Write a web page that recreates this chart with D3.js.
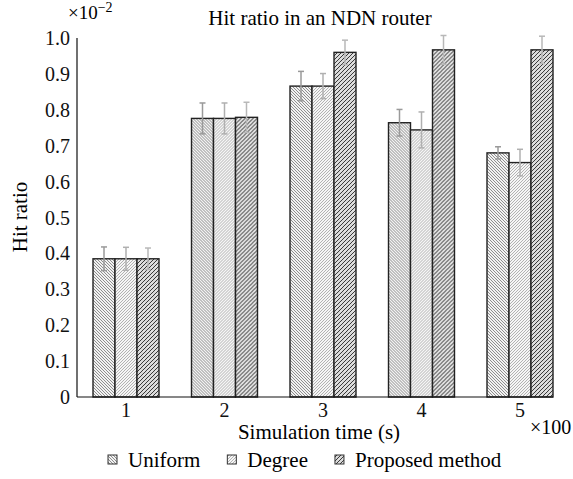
<!DOCTYPE html>
<html>
<head>
<meta charset="utf-8">
<script src="https://cdn.jsdelivr.net/npm/d3@7"></script>
<style>
  body { margin: 0; background: #fff; }
</style>
</head>
<body>
<div id="chart"></div>
<script>
// Values (hit ratio, x10^-2)
const categories = ["1", "2", "3", "4", "5"];
const seriesNames = ["Uniform", "Degree", "Proposed method"];
const uniform = [0.385, 0.776, 0.866, 0.764, 0.680];
const degree = [0.385, 0.776, 0.866, 0.744, 0.653];
const proposed = [0.385, 0.779, 0.960, 0.967, 0.967];
const uniformErr = [0.033, 0.043, 0.041, 0.037, 0.017];
const degreeErr = [0.032, 0.043, 0.035, 0.050, 0.037];
const proposedErr = [0.030, 0.042, 0.034, 0.040, 0.038];
const yTicks = [0, 0.1, 0.2, 0.3, 0.4, 0.5, 0.6, 0.7, 0.8, 0.9, 1.0];

const W = 573, H = 479;
const axisLeft = 77, axisRight = 553, axisTop = 38, axisBottom = 397;
const serif = "'Liberation Serif', 'DejaVu Serif', serif";

const svg = d3.select("#chart").append("svg")
    .attr("width", W)
    .attr("height", H)
    .style("font-family", serif);

// Hatch patterns for the three series
const defs = svg.append("defs");

function hatch(id, dir, color, width, bg) {
    const p = defs.append("pattern")
        .attr("id", id)
        .attr("patternUnits", "userSpaceOnUse")
        .attr("width", 3)
        .attr("height", 3);
    p.append("rect").attr("width", 3).attr("height", 3).attr("fill", bg);
    const path = dir === "back"
        ? "M-1,-1 L4,4 M-1,2 L1,4 M2,-1 L4,1"
        : "M-1,4 L4,-1 M-1,1 L1,-1 M2,4 L4,2";
    p.append("path").attr("d", path)
        .attr("stroke", color)
        .attr("stroke-width", width);
}
hatch("pat-uniform", "back", "#8e8e8e", 1, "#f2f2f2");
hatch("pat-degree", "fwd", "#b2b2b2", 1, "#f6f6f6");
const pp = defs.append("pattern")
    .attr("id", "pat-proposed")
    .attr("patternUnits", "userSpaceOnUse")
    .attr("width", 4)
    .attr("height", 4);
pp.append("rect").attr("width", 4).attr("height", 4).attr("fill", "#d8d8d8");
pp.append("path").attr("d", "M-1,5 L5,-1 M-1,1 L1,-1 M3,5 L5,3")
    .attr("stroke", "#3a3a3a").attr("stroke-width", 1);
pp.append("rect").attr("x", 2.5).attr("y", 2.5).attr("width", 1).attr("height", 1).attr("fill", "#fff");

const fills = ["url(#pat-uniform)", "url(#pat-degree)", "url(#pat-proposed)"];
const errColors = ["#9a9a9a", "#b0b0b0", "#b8b8b8"];

const x0 = d3.scaleBand()
    .domain(categories)
    .range([93, axisRight])
    .paddingInner(0.33)
    .paddingOuter(0);

const x1 = d3.scaleBand()
    .domain(seriesNames)
    .range([0, x0.bandwidth()]);

const y = d3.scaleLinear()
    .domain([0, 1])
    .range([axisBottom, axisTop]);

const rows = categories.map((c, i) => ({
    cat: c,
    vals: [
        {name: seriesNames[0], v: uniform[i], e: uniformErr[i], k: 0},
        {name: seriesNames[1], v: degree[i], e: degreeErr[i], k: 1},
        {name: seriesNames[2], v: proposed[i], e: proposedErr[i], k: 2}
    ]
}));

const groups = svg.selectAll("g.group")
    .data(rows)
    .enter()
    .append("g")
    .attr("class", "group")
    .attr("transform", d => `translate(${x0(d.cat)},0)`);

groups.selectAll("rect")
    .data(d => d.vals)
    .enter()
    .append("rect")
    .attr("x", d => x1(d.name))
    .attr("y", d => y(d.v))
    .attr("width", x1.bandwidth())
    .attr("height", d => y(0) - y(d.v))
    .attr("fill", d => fills[d.k])
    .attr("stroke", "#222")
    .attr("stroke-width", 1.4);

// Error bars
const err = groups.selectAll("g.err")
    .data(d => d.vals)
    .enter()
    .append("g")
    .attr("class", "err")
    .attr("stroke", d => errColors[d.k])
    .attr("stroke-width", 1.5);

const cx = d => x1(d.name) + x1.bandwidth() / 2;
err.append("line")
    .attr("x1", cx).attr("x2", cx)
    .attr("y1", d => y(d.v + d.e))
    .attr("y2", d => y(d.v - d.e));
err.append("line")
    .attr("x1", d => cx(d) - 3).attr("x2", d => cx(d) + 3)
    .attr("y1", d => y(d.v + d.e)).attr("y2", d => y(d.v + d.e));
err.append("line")
    .attr("x1", d => cx(d) - 3).attr("x2", d => cx(d) + 3)
    .attr("y1", d => y(d.v - d.e)).attr("y2", d => y(d.v - d.e));

// Axes
svg.append("line")
    .attr("x1", axisLeft).attr("x2", axisLeft)
    .attr("y1", axisTop).attr("y2", axisBottom)
    .attr("stroke", "#111").attr("stroke-width", 1.2);
svg.append("line")
    .attr("x1", axisLeft).attr("x2", axisRight)
    .attr("y1", axisBottom).attr("y2", axisBottom)
    .attr("stroke", "#111").attr("stroke-width", 1.2);

svg.selectAll("text.ytick")
    .data(yTicks)
    .enter()
    .append("text")
    .attr("class", "ytick")
    .attr("x", axisLeft - 7)
    .attr("y", d => y(d) + 7)
    .attr("text-anchor", "end")
    .style("font-family", serif)
    .style("font-size", "20px")
    .attr("fill", "#111")
    .text(d => d === 0 ? "0" : d3.format(".1f")(d));

svg.selectAll("text.xtick")
    .data(categories)
    .enter()
    .append("text")
    .attr("class", "xtick")
    .attr("x", d => x0(d) + x0.bandwidth() / 2)
    .attr("y", 417)
    .attr("text-anchor", "middle")
    .style("font-family", serif)
    .style("font-size", "20px")
    .attr("fill", "#111")
    .text(d => d);

// Titles and labels
svg.append("text")
    .attr("x", 320).attr("y", 25)
    .attr("text-anchor", "middle")
    .style("font-family", serif)
    .style("font-size", "21px")
    .text("Hit ratio in an NDN router");

svg.append("text")
    .attr("x", 319).attr("y", 439)
    .attr("text-anchor", "middle")
    .style("font-family", serif)
    .style("font-size", "21px")
    .text("Simulation time (s)");

svg.append("text")
    .attr("transform", `translate(27,217) rotate(-90)`)
    .attr("text-anchor", "middle")
    .style("font-family", serif)
    .style("font-size", "21px")
    .text("Hit ratio");

const mult = svg.append("text")
    .attr("x", 68).attr("y", 19)
    .style("font-family", serif)
    .style("font-size", "19px");
mult.append("tspan").text("×10");
mult.append("tspan").attr("dy", -7).style("font-size", "14px").text("−2");

svg.append("text")
    .attr("x", 530).attr("y", 434)
    .style("font-family", serif)
    .style("font-size", "20px")
    .text("×100");

// Legend
const legend = svg.append("g");
let lx = 108;
seriesNames.forEach((name, i) => {
    legend.append("rect")
        .attr("x", lx).attr("y", 455)
        .attr("width", 9).attr("height", 9)
        .attr("fill", fills[i])
        .attr("stroke", "#333").attr("stroke-width", 1);
    const t = legend.append("text")
        .attr("x", lx + 20).attr("y", 467)
        .style("font-family", serif)
        .style("font-size", "21px")
        .text(name);
    lx += 20 + t.node().getComputedTextLength() + 27;
});
</script>
</body>
</html>
